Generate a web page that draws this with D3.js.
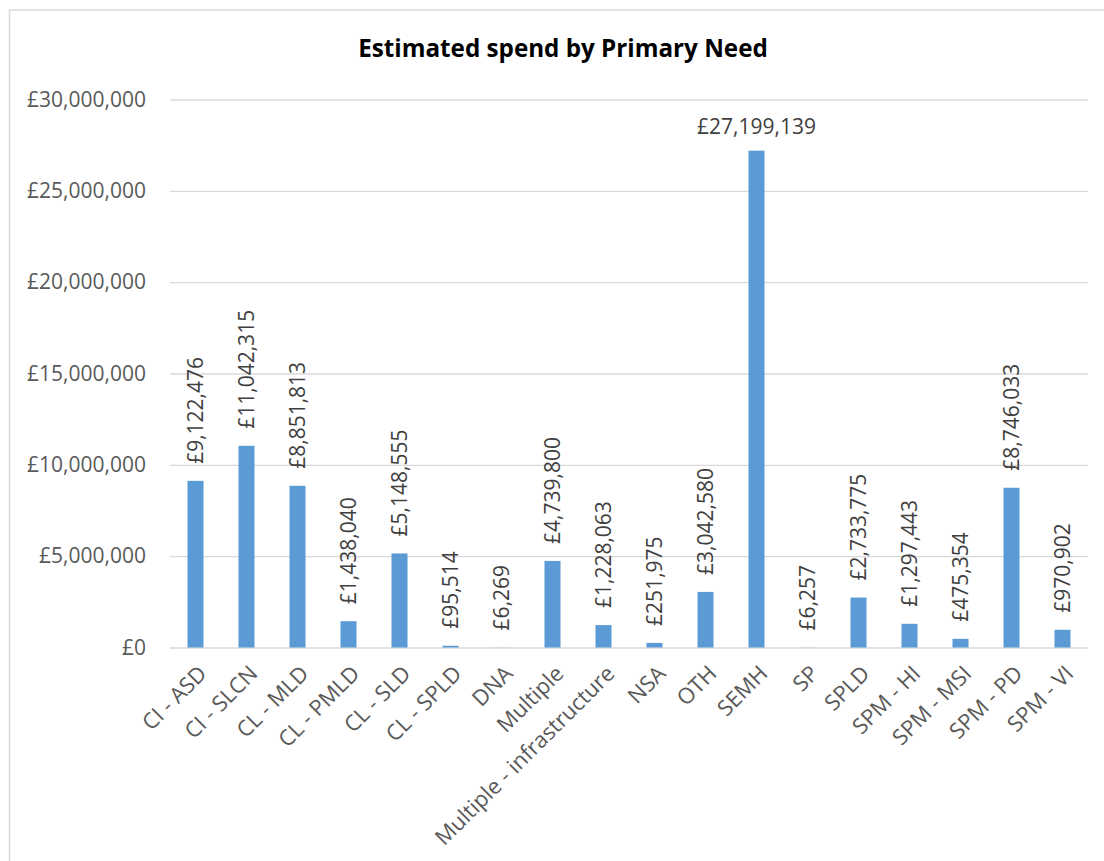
<!DOCTYPE html>
<html>
<head>
<meta charset="utf-8">
<script src="https://cdn.jsdelivr.net/npm/d3@7"></script>
<style>
  html, body { margin: 0; padding: 0; background: #ffffff; }
  svg { display: block; }
</style>
</head>
<body>
<svg id="chart" width="1104" height="861"></svg>
<script>
const title = "Estimated spend by Primary Need";
const categories = ["CI - ASD", "CI - SLCN", "CL - MLD", "CL - PMLD", "CL - SLD", "CL - SPLD", "DNA", "Multiple", "Multiple - infrastructure", "NSA", "OTH", "SEMH", "SP", "SPLD", "SPM - HI", "SPM - MSI", "SPM - PD", "SPM - VI"];
const values = [9122476, 11042315, 8851813, 1438040, 5148555, 95514, 6269, 4739800, 1228063, 251975, 3042580, 27199139, 6257, 2733775, 1297443, 475354, 8746033, 970902];
const yTicks = [0, 5000000, 10000000, 15000000, 20000000, 25000000, 30000000];

(function () {
const FONT = "'Open Sans', 'Liberation Sans', sans-serif";
const svg = d3.select("#chart");

function measure(text, size, weight) {
  const t = svg.append("text").attr("font-family", FONT).attr("font-size", size)
    .attr("font-weight", weight || "normal").text(text);
  const w = t.node().getComputedTextLength();
  t.remove();
  return w;
}
const baseSize = 19 * 119 / measure("£30,000,000", 19);
const catSize = 19 * 243 / measure("Multiple - infrastructure", 19);
const titleSize = 20 * 410 / measure(title, 20, "bold");

svg.append("rect").attr("x", 9.5).attr("y", 10).attr("width", 1120).attr("height", 900)
  .attr("fill", "#ffffff").attr("stroke", "#d9d9d9").attr("stroke-width", 1.5);

const pLeft = 170, pRight = 1088, pTop = 99.5, pBottom = 647.5;
const x = d3.scaleBand().domain(categories).range([pLeft, pRight]).paddingInner(0.686).paddingOuter(0.343);
const y = d3.scaleLinear().domain([0, 30000000]).range([pBottom, pTop]);
const fmt = d => "£" + d3.format(",")(d);

const yAxis = svg.append("g").attr("transform", `translate(${pLeft},0)`)
  .call(d3.axisLeft(y).tickValues(yTicks).tickSize(-(pRight - pLeft)).tickPadding(24).tickFormat(fmt));
yAxis.select(".domain").remove();
yAxis.selectAll(".tick line").attr("stroke", "#d9d9d9").attr("stroke-width", 1.3);
yAxis.selectAll(".tick text").attr("font-family", FONT).attr("font-size", baseSize).attr("fill", "#595959");

const xAxis = svg.append("g").attr("transform", `translate(0,${pBottom})`)
  .call(d3.axisBottom(x).tickSize(0).tickPadding(0));
xAxis.select(".domain").remove();
xAxis.selectAll(".tick text")
  .attr("font-family", FONT).attr("font-size", catSize).attr("fill", "#595959")
  .attr("text-anchor", "end")
  .attr("transform", "translate(7,22) rotate(-45)")
  .attr("x", 0).attr("y", 0).attr("dy", "0.35em");

svg.append("g").selectAll("rect").data(values).join("rect")
  .attr("x", (d, i) => x(categories[i]))
  .attr("width", x.bandwidth())
  .attr("y", d => y(d))
  .attr("height", d => pBottom - y(d))
  .attr("fill", "#5b9bd5");

const gap = 17;
const labels = svg.append("g");
values.forEach((v, i) => {
  const cx = x(categories[i]) + x.bandwidth() / 2;
  const yTop = y(v);
  const txt = fmt(v);
  const len = measure(txt, baseSize);
  const t = labels.append("text").attr("font-family", FONT).attr("font-size", baseSize)
    .attr("fill", "#404040").text(txt);
  if (yTop - gap - len < pTop) {
    t.attr("x", cx).attr("y", yTop - gap).attr("text-anchor", "middle");
  } else {
    t.attr("text-anchor", "start").attr("dy", "0.35em")
      .attr("transform", `translate(${cx},${yTop - gap}) rotate(-90)`);
  }
});

svg.append("text").attr("x", 563).attr("y", 57).attr("text-anchor", "middle")
  .attr("font-family", FONT).attr("font-size", titleSize).attr("font-weight", "bold")
  .attr("fill", "#000000").text(title);
})();
</script>
</body>
</html>
